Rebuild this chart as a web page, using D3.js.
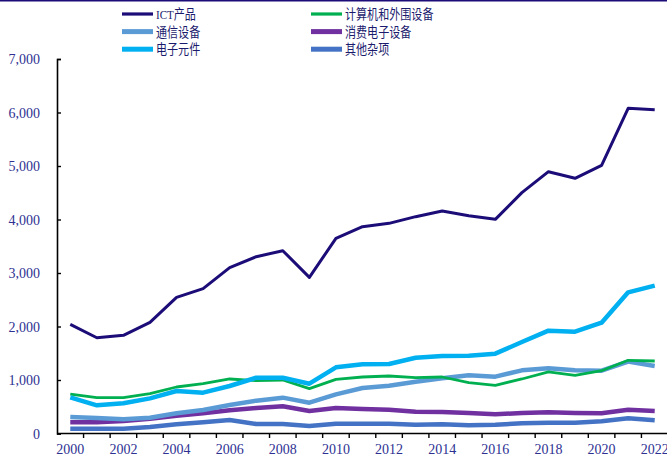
<!DOCTYPE html>
<html>
<head>
<meta charset="utf-8">
<script src="https://cdn.jsdelivr.net/npm/d3@7"></script>
<style>
  body { margin: 0; background: #fff; }
  svg { display: block; }
</style>
</head>
<body>
<svg id="chart" width="667" height="456"></svg>
<script>
// data
const years = d3.range(2000, 2023).map(String);
const yTicks = [0, 1000, 2000, 3000, 4000, 5000, 6000, 7000];
const xTickLabels = years.filter((d, i) => i % 2 === 0);

const ict      = [2040, 1790, 1835, 2078, 2545, 2707, 3100, 3305, 3417, 2919, 3648, 3866, 3928, 4053, 4159, 4072, 4003, 4502, 4894, 4770, 5013, 6078, 6053];
const computer = [738, 670, 670, 745, 869, 931, 1019, 988, 1000, 838, 1013, 1056, 1075, 1044, 1056, 950, 901, 1019, 1150, 1088, 1174, 1368, 1355];
const telecom  = [308, 290, 265, 296, 377, 439, 533, 614, 670, 576, 732, 850, 894, 969, 1031, 1088, 1062, 1181, 1218, 1181, 1174, 1343, 1262];
const consumer = [209, 209, 234, 277, 333, 377, 433, 477, 508, 421, 477, 458, 445, 408, 402, 383, 358, 383, 396, 383, 377, 445, 421];
const parts    = [676, 527, 564, 657, 794, 763, 888, 1043, 1043, 931, 1237, 1293, 1299, 1417, 1449, 1455, 1492, 1710, 1922, 1903, 2071, 2639, 2763];
const others   = [90, 90, 90, 121, 171, 209, 252, 178, 178, 140, 184, 184, 184, 165, 171, 153, 165, 190, 202, 202, 227, 283, 246];

// draw order: back to front
const series = [
  { name: "其他杂项",       values: others,   color: "#4472c4", w: 4.5 },
  { name: "消费电子设备",   values: consumer, color: "#7030a0", w: 4.5 },
  { name: "通信设备",       values: telecom,  color: "#5b9bd5", w: 4.5 },
  { name: "计算机和外围设备", values: computer, color: "#00b050", w: 2.8 },
  { name: "电子元件",       values: parts,    color: "#00b0f0", w: 4.5 },
  { name: "ICT产品",        values: ict,      color: "#1b0c78", w: 3 }
];

// legend layout (two columns, three rows)
const legendOrder = ["ICT产品", "计算机和外围设备", "通信设备", "消费电子设备", "电子元件", "其他杂项"];

const svg = d3.select("#chart");
const W = 667, H = 456;
const margin = { top: 59, right: 0, bottom: 22, left: 57 };
const serif = "'Liberation Serif', 'Times New Roman', serif";
const labelColor = "#2e3192";

// top rule
svg.append("line")
  .attr("x1", 0).attr("x2", W).attr("y1", 0.8).attr("y2", 0.8)
  .attr("stroke", "#1b0c78").attr("stroke-width", 1.6);

const x = d3.scaleBand().domain(years).range([margin.left, 668]);
const xp = d => x(d) + x.bandwidth() / 2;
const y = d3.scaleLinear().domain([0, 7000]).range([433.5, margin.top]);

// y axis
const yAxis = svg.append("g")
  .attr("transform", `translate(${margin.left},0)`)
  .call(d3.axisRight(y).tickValues(yTicks).tickSize(4).tickFormat(""));
yAxis.select(".domain").attr("stroke", "#000").attr("stroke-width", 1.6);
yAxis.selectAll(".tick line").attr("stroke", "#000").attr("stroke-width", 1.4);

svg.append("g").selectAll("text")
  .data(yTicks)
  .join("text")
  .attr("x", 40)
  .attr("y", d => y(d) + 5)
  .attr("text-anchor", "end")
  .attr("font-family", serif)
  .attr("font-size", 14)
  .attr("fill", labelColor)
  .text(d => d3.format(",")(d));

// x axis, ticks between categories
const xBounds = years.map(d => x(d)).concat([x.range()[1]]).slice(1);
const xAxis = svg.append("g");
xAxis.append("line")
  .attr("x1", margin.left).attr("x2", W)
  .attr("y1", 433.5).attr("y2", 433.5)
  .attr("stroke", "#000").attr("stroke-width", 1.6);
xAxis.selectAll(".xt")
  .data(xBounds)
  .join("line")
  .attr("class", "xt")
  .attr("x1", d => d).attr("x2", d => d)
  .attr("y1", 433.5).attr("y2", 438)
  .attr("stroke", "#000").attr("stroke-width", 1.4);

svg.append("g").selectAll("text")
  .data(xTickLabels)
  .join("text")
  .attr("x", d => xp(d))
  .attr("y", 454)
  .attr("text-anchor", "middle")
  .attr("font-family", serif)
  .attr("font-size", 14)
  .attr("fill", labelColor)
  .text(d => d);

// lines
const line = d3.line()
  .x((d, i) => xp(years[i]))
  .y(d => y(d));

svg.append("g").selectAll("path")
  .data(series)
  .join("path")
  .attr("d", d => line(d.values))
  .attr("fill", "none")
  .attr("stroke", d => d.color)
  .attr("stroke-width", d => d.w)
  .attr("stroke-linejoin", "round");

// legend
const legend = svg.append("g");
legendOrder.forEach((name, i) => {
  const s = series.find(d => d.name === name);
  const col = i % 2, row = Math.floor(i / 2);
  const lx = col === 0 ? 122 : 311;
  const ly = 14 + row * 17.6;
  legend.append("line")
    .attr("x1", lx).attr("x2", lx + 31)
    .attr("y1", ly).attr("y2", ly)
    .attr("stroke", s.color)
    .attr("stroke-width", s.w === 4.5 ? 5 : 3.2);
  // glyphs in the original are condensed
  legend.append("text")
    .attr("transform", `translate(${lx + 34},${ly + 5}) scale(0.82,1)`)
    .attr("font-family", "'Liberation Serif', 'Noto Sans CJK SC', serif")
    .attr("font-size", 13.5)
    .attr("fill", "#1b1b6e")
    .text(name);
});
</script>
</body>
</html>
